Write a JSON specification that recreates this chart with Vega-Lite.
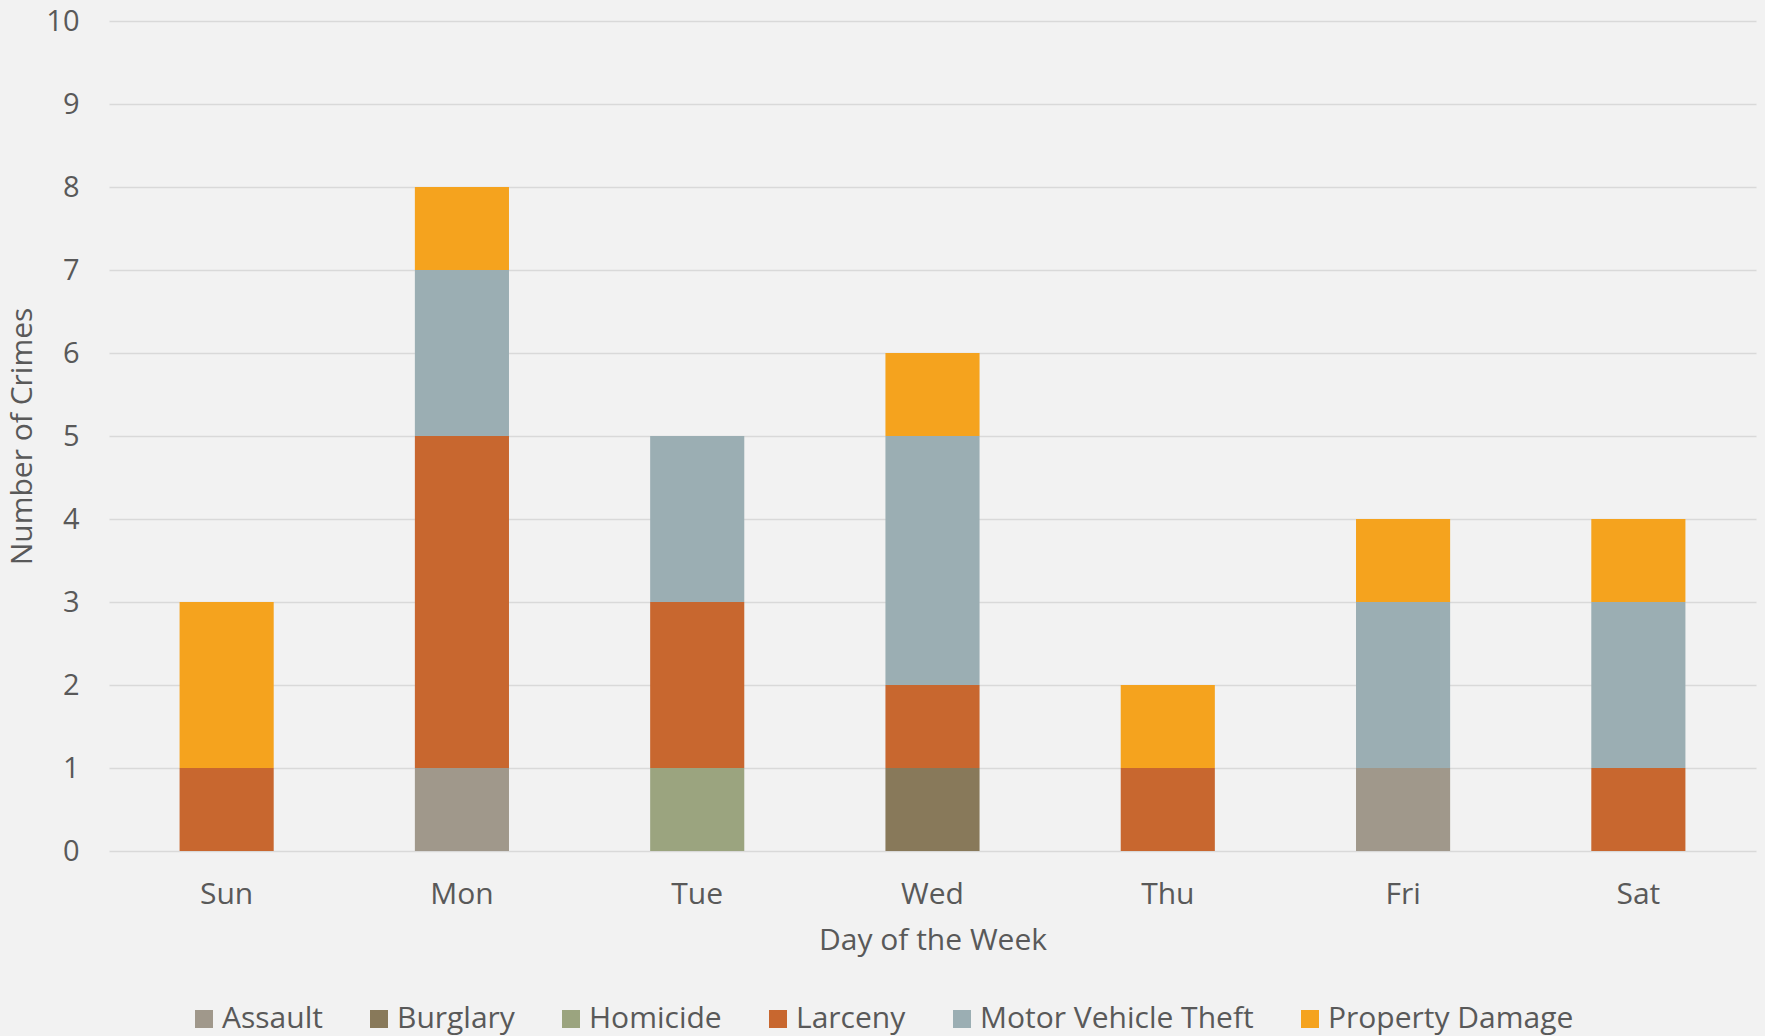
{
  "$schema": "https://vega.github.io/schema/vega-lite/v6.json",
  "width": 1647,
  "height": 830,
  "autosize": {"type": "none"},
  "padding": {"left": 109, "top": 21, "right": 9, "bottom": 185},
  "background": "#F2F2F2",
  "config": {
    "view": {"stroke": null},
    "font": "Open Sans",
    "axis": {"labelColor": "#595959", "titleColor": "#595959", "labelFont": "Open Sans", "titleFont": "Open Sans", "labelFontWeight": "normal", "titleFontWeight": "normal"},
    "legend": {"labelColor": "#595959", "labelFont": "Open Sans", "labelFontWeight": "normal"}
  },
  "data": {
    "values": [
      {"day": "Sun", "crime": "Larceny", "count": 1},
      {"day": "Sun", "crime": "Property Damage", "count": 2},
      {"day": "Mon", "crime": "Assault", "count": 1},
      {"day": "Mon", "crime": "Larceny", "count": 4},
      {"day": "Mon", "crime": "Motor Vehicle Theft", "count": 2},
      {"day": "Mon", "crime": "Property Damage", "count": 1},
      {"day": "Tue", "crime": "Homicide", "count": 1},
      {"day": "Tue", "crime": "Larceny", "count": 2},
      {"day": "Tue", "crime": "Motor Vehicle Theft", "count": 2},
      {"day": "Wed", "crime": "Burglary", "count": 1},
      {"day": "Wed", "crime": "Larceny", "count": 1},
      {"day": "Wed", "crime": "Motor Vehicle Theft", "count": 3},
      {"day": "Wed", "crime": "Property Damage", "count": 1},
      {"day": "Thu", "crime": "Larceny", "count": 1},
      {"day": "Thu", "crime": "Property Damage", "count": 1},
      {"day": "Fri", "crime": "Assault", "count": 1},
      {"day": "Fri", "crime": "Motor Vehicle Theft", "count": 2},
      {"day": "Fri", "crime": "Property Damage", "count": 1},
      {"day": "Sat", "crime": "Larceny", "count": 1},
      {"day": "Sat", "crime": "Motor Vehicle Theft", "count": 2},
      {"day": "Sat", "crime": "Property Damage", "count": 1}
    ]
  },
  "mark": {"type": "bar"},
  "encoding": {
    "x": {
      "field": "day", "type": "nominal",
      "sort": ["Sun", "Mon", "Tue", "Wed", "Thu", "Fri", "Sat"],
      "scale": {"paddingInner": 0.6, "paddingOuter": 0.3},
      "axis": {"title": "Day of the Week", "labelAngle": 0, "labelFontSize": 30, "titleFontSize": 30, "labelPadding": 28, "titlePadding": 16, "ticks": false, "domain": false}
    },
    "y": {
      "field": "count", "type": "quantitative", "aggregate": "sum",
      "scale": {"domain": [0, 10]},
      "axis": {"title": "Number of Crimes", "values": [0,1,2,3,4,5,6,7,8,9,10], "labelOverlap": false, "labelFontSize": 29, "titleFontSize": 30, "labelPadding": 30, "titlePadding": 8, "ticks": false, "domain": false, "gridColor": "#D9D9D9", "gridWidth": 1.5}
    },
    "color": {
      "field": "crime", "type": "nominal",
      "scale": {
        "domain": ["Assault", "Burglary", "Homicide", "Larceny", "Motor Vehicle Theft", "Property Damage"],
        "range": ["#A0988B", "#88795A", "#9BA47F", "#C8672F", "#9BAEB3", "#F5A31E"]
      },
      "legend": {"title": null, "orient": "none", "direction": "horizontal", "legendX": 80, "legendY": 983, "symbolType": "square", "symbolSize": 324, "symbolStrokeWidth": 0, "labelFontSize": 30, "labelLimit": 0, "labelOffset": 3, "columnPadding": 41, "columns": 6}
    },
    "order": {"field": "crime", "sort": "ascending"}
  }
}
